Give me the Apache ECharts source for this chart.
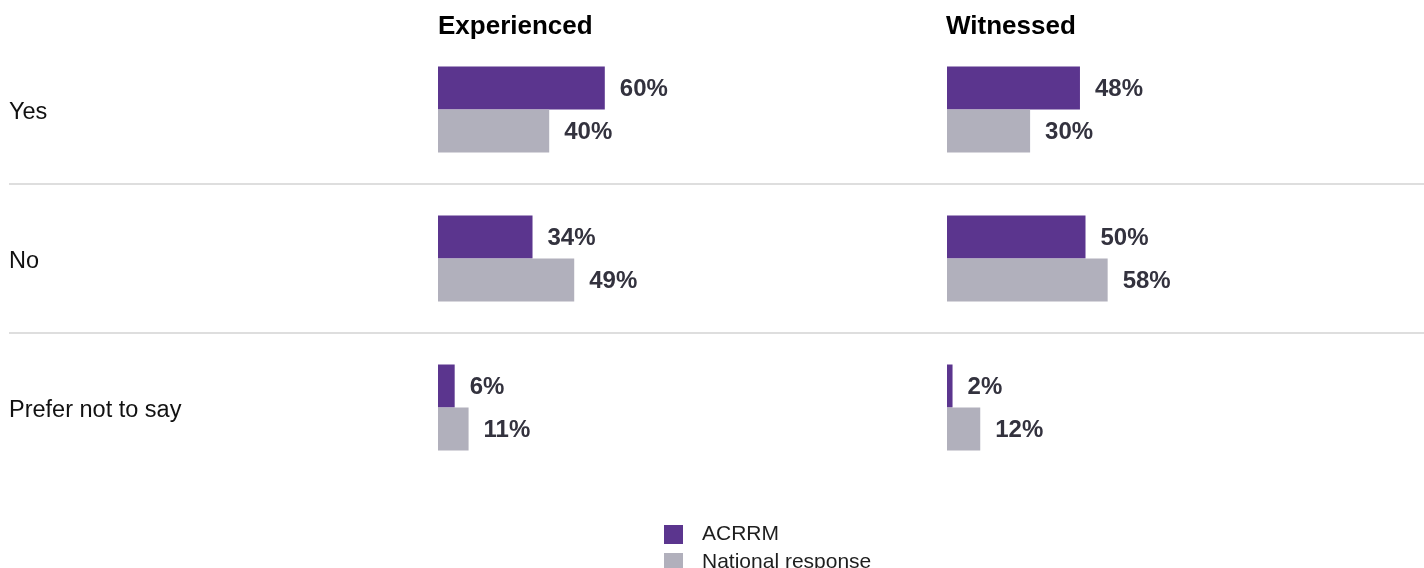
<!DOCTYPE html>
<html>
<head>
<meta charset="utf-8">
<script src="https://cdn.jsdelivr.net/npm/echarts@6/dist/echarts.min.js"></script>
<style>
  html, body { margin: 0; padding: 0; background: #ffffff; }
  #chart { width: 1424px; height: 568px; }
</style>
</head>
<body>
<div id="chart"></div>
<script>
// Survey responses: share answering each option, ACRRM vs national response
const categories = ['Yes', 'No', 'Prefer not to say'];
const panelTitles = ['Experienced', 'Witnessed'];
const seriesNames = ['ACRRM', 'National response'];

const experiencedACRRM = [60, 34, 6];
const experiencedNational = [40, 49, 11];
const witnessedACRRM = [48, 50, 2];
const witnessedNational = [30, 58, 12];

const PURPLE = '#5b358e';
const GREY = '#b1b0bc';
const FONT = '"Liberation Sans", Arial, Helvetica, sans-serif';

const chart = echarts.init(document.getElementById('chart'), null, { renderer: 'canvas' });

const rowTop = 35;
const rowHeight = 447;

// panelIdx 1 = Experienced, 2 = Witnessed (same index for its x and y axes)
function barSeries(name, data, panelIdx, color) {
  return {
    type: 'bar',
    name: name,
    data: data,
    xAxisIndex: panelIdx,
    yAxisIndex: panelIdx,
    barWidth: 43,
    barGap: '0%',
    itemStyle: { color: color },
    label: {
      show: true,
      position: 'right',
      distance: 15,
      offset: [0, 1],
      formatter: '{c}%',
      fontFamily: FONT,
      fontSize: 24,
      fontWeight: 'bold',
      color: '#33323e'
    },
    emphasis: { disabled: true },
    silent: true,
    animation: false
  };
}

const titleStyle = { fontFamily: FONT, fontSize: 26, fontWeight: 'bold', color: '#000000' };

const option = {
  backgroundColor: '#ffffff',
  animation: false,
  textStyle: { fontFamily: FONT },
  title: [
    { text: panelTitles[0], left: 438, top: 14, padding: 0, textStyle: titleStyle },
    { text: panelTitles[1], left: 946, top: 14, padding: 0, textStyle: titleStyle }
  ],
  legend: {
    data: seriesNames,
    orient: 'vertical',
    left: 664,
    top: 524,
    height: 60,
    padding: 0,
    itemWidth: 19,
    itemHeight: 19,
    itemGap: 7,
    icon: 'rect',
    selectedMode: false,
    textStyle: {
      fontFamily: FONT,
      fontSize: 21,
      color: '#1e1e1e',
      lineHeight: 19,
      padding: [0, 0, 0, 14]
    }
  },
  grid: [
    // separators across the full width
    { left: 9, right: 0, top: rowTop, height: rowHeight },
    // Experienced panel
    { left: 438, width: 278, top: rowTop, height: rowHeight },
    // Witnessed panel
    { left: 947, width: 277, top: rowTop, height: rowHeight },
    // row labels
    { left: 9, width: 400, top: rowTop + 3, height: rowHeight }
  ],
  xAxis: [
    { gridIndex: 0, type: 'value', min: 0, max: 1, show: false },
    { gridIndex: 1, type: 'value', min: 0, max: 100, show: false },
    { gridIndex: 2, type: 'value', min: 0, max: 100, show: false },
    { gridIndex: 3, type: 'value', min: 0, max: 1, show: false }
  ],
  yAxis: [
    {
      gridIndex: 0,
      type: 'value',
      min: 0,
      max: categories.length,
      interval: 1,
      inverse: true,
      axisLine: { show: false },
      axisTick: { show: false },
      axisLabel: { show: false },
      splitLine: {
        show: true,
        showMinLine: false,
        showMaxLine: false,
        lineStyle: { color: '#dedede', width: 2 }
      }
    },
    { gridIndex: 1, type: 'category', data: categories, inverse: true, show: false },
    { gridIndex: 2, type: 'category', data: categories, inverse: true, show: false },
    {
      gridIndex: 3,
      type: 'category',
      data: categories,
      inverse: true,
      position: 'left',
      axisLine: { show: false },
      axisTick: { show: false },
      splitLine: { show: false },
      axisLabel: {
        inside: true,
        margin: 0,
        fontFamily: FONT,
        fontSize: 23.5,
        color: '#111111'
      }
    }
  ],
  series: [
    barSeries(seriesNames[0], experiencedACRRM, 1, PURPLE),
    barSeries(seriesNames[1], experiencedNational, 1, GREY),
    barSeries(seriesNames[0], witnessedACRRM, 2, PURPLE),
    barSeries(seriesNames[1], witnessedNational, 2, GREY)
  ]
};

chart.setOption(option);
</script>
</body>
</html>
